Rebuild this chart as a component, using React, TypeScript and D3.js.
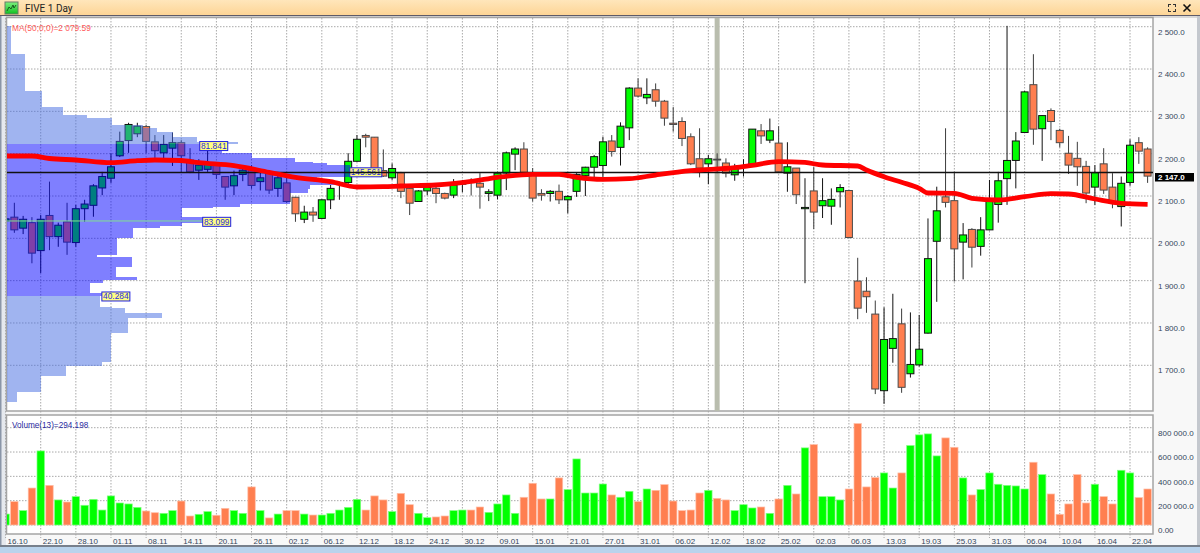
import React, { useEffect, useRef } from "react";
import * as d3 from "d3";

const WIDTH = 1200;
const HEIGHT = 553;

const title = "FIVE 1 Day";
const maLabel = "MA(50;0;0)=2 079.59";
const volumeLabel = "Volume(13)=294.198";

// tick labels, one every 4 sessions
const dateLabels = [
  "16.10", "22.10", "28.10", "01.11", "08.11", "14.11", "20.11", "26.11", "02.12", "06.12", "12.12",
  "18.12", "24.12", "30.12", "09.01", "15.01", "21.01", "27.01", "31.01", "06.02", "12.02", "18.02",
  "25.02", "02.03", "06.03", "13.03", "19.03", "25.03", "31.03", "06.04", "10.04", "16.04", "22.04",
];

const priceTicks = [1700, 1800, 1900, 2000, 2100, 2200, 2300, 2400, 2500];
const volumeTicks = [0, 200000, 400000, 600000, 800000];

const opens = [
  2041, 2050, 2024, 2037, 1971, 2054, 2004, 2039, 1990, 2070, 2078,
  2119, 2142, 2195, 2231, 2247, 2264, 2228, 2202, 2213, 2226,
  2185, 2161, 2163, 2178, 2146, 2124, 2151, 2163, 2134, 2154,
  2118, 2131, 2097, 2045, 2062, 2047, 2091, 2130, 2132, 2182,
  2243, 2239, 2160, 2143, 2155, 2118, 2087, 2112, 2118, 2106,
  2102, 2128, 2135, 2130, 2106, 2102, 2154, 2199, 2211, 2150,
  2106, 2106, 2111, 2091, 2111, 2148, 2168, 2172, 2230, 2215,
  2261, 2355, 2332, 2351, 2324, 2272, 2276, 2240, 2188, 2176,
  2187, 2178, 2150, 2170, 2175, 2254, 2232, 2225, 2154, 2166,
  2070, 2112, 2077, 2076, 2110, 2113, 1899, 1875, 1821, 1640,
  1740, 1798, 1680, 1701, 1776, 1993, 2098, 2089, 1991, 2021,
  1981, 2020, 2080, 2141, 2184, 2250, 2363, 2259, 2302, 2255,
  2201, 2189, 2170, 2121, 2176, 2121, 2075, 2132, 2226, 2211,
];
const closes = [
  2046, 2020, 2045, 1965, 2045, 2004, 2031, 1991, 2070, 2081, 2124,
  2146, 2169, 2229, 2269, 2265, 2229, 2207, 2222, 2226, 2195,
  2157, 2173, 2178, 2151, 2121, 2148, 2161, 2125, 2143, 2114,
  2143, 2087, 2058, 2062, 2055, 2091, 2118, 2132, 2182, 2234,
  2239, 2157, 2147, 2165, 2111, 2083, 2112, 2120, 2106, 2095,
  2126, 2131, 2133, 2121, 2110, 2154, 2202, 2211, 2156, 2095,
  2102, 2111, 2091, 2099, 2151, 2168, 2193, 2228, 2205, 2265,
  2355, 2336, 2340, 2324, 2284, 2269, 2236, 2176, 2166, 2188,
  2185, 2154, 2169, 2172, 2258, 2242, 2254, 2157, 2169, 2103,
  2073, 2062, 2089, 2092, 2120, 2002, 1835, 1862, 1644, 1761,
  1763, 1648, 1702, 1738, 1952, 2065, 2085, 1975, 2008, 1979,
  2020, 2087, 2136, 2184, 2230, 2346, 2258, 2290, 2276, 2226,
  2173, 2169, 2107, 2155, 2114, 2083, 2130, 2220, 2206, 2147,
];
const highs = [
  2048, 2084, 2053, 2050, 2055, 2134, 2037, 2084, 2079, 2091, 2128,
  2157, 2201, 2252, 2273, 2273, 2268, 2244, 2244, 2250, 2232,
  2213, 2187, 2209, 2180, 2147, 2160, 2173, 2173, 2155, 2157,
  2154, 2143, 2098, 2077, 2074, 2092, 2126, 2134, 2201, 2244,
  2247, 2239, 2210, 2177, 2157, 2119, 2114, 2131, 2122, 2108,
  2140, 2138, 2142, 2154, 2116, 2157, 2205, 2215, 2227, 2166,
  2116, 2114, 2127, 2102, 2154, 2169, 2197, 2240, 2244, 2274,
  2357, 2378, 2378, 2366, 2327, 2310, 2286, 2248, 2260, 2197,
  2201, 2189, 2176, 2187, 2258, 2270, 2283, 2265, 2227, 2166,
  2142, 2169, 2142, 2118, 2128, 2114, 1954, 1908, 1853, 1837,
  1869, 1834, 1825, 1819, 2047, 2122, 2260, 2157, 2036, 2024,
  2050, 2138, 2157, 2502, 2251, 2348, 2435, 2291, 2307, 2259,
  2242, 2228, 2183, 2173, 2213, 2154, 2146, 2234, 2239, 2215,
];
const lows = [
  2039, 2013, 2010, 1941, 1918, 1972, 1980, 1961, 1980, 2039, 2051,
  2102, 2131, 2192, 2202, 2239, 2201, 2190, 2187, 2171, 2157,
  2154, 2138, 2157, 2140, 2091, 2102, 2135, 2117, 2113, 2105,
  2098, 2084, 2039, 2036, 2039, 2046, 2069, 2091, 2126, 2181,
  2215, 2155, 2145, 2138, 2095, 2055, 2086, 2102, 2083, 2092,
  2095, 2109, 2101, 2070, 2088, 2092, 2114, 2161, 2150, 2087,
  2089, 2087, 2081, 2059, 2098, 2100, 2143, 2142, 2193, 2172,
  2232, 2333, 2317, 2311, 2266, 2252, 2218, 2173, 2144, 2128,
  2154, 2144, 2136, 2146, 2174, 2223, 2225, 2154, 2110, 2081,
  1894, 2022, 2048, 2032, 2073, 2000, 1809, 1824, 1632, 1609,
  1706, 1635, 1671, 1697, 1775, 1850, 2073, 1898, 1903, 1931,
  1959, 2019, 2037, 2079, 2118, 2249, 2221, 2183, 2232, 2215,
  2152, 2124, 2083, 2079, 2105, 2071, 2028, 2124, 2176, 2131,
];
const volumes = [
  90000, 192000, 118000, 304000, 609000, 326000, 206000, 189000, 233000, 162000, 211000,
  123000, 239000, 181000, 173000, 145000, 115000, 101000, 96000, 118000, 197000,
  74000, 88000, 110000, 80000, 137000, 118000, 96000, 313000, 118000, 58000,
  90000, 118000, 118000, 90000, 82000, 82000, 96000, 123000, 145000, 211000,
  123000, 239000, 206000, 110000, 260000, 167000, 96000, 60000, 66000, 74000,
  118000, 123000, 123000, 148000, 104000, 173000, 247000, 96000, 228000, 343000,
  214000, 214000, 387000, 291000, 543000, 263000, 263000, 337000, 247000, 228000,
  277000, 192000, 296000, 285000, 332000, 197000, 118000, 123000, 263000, 285000,
  219000, 206000, 118000, 167000, 140000, 148000, 96000, 214000, 326000, 255000,
  634000, 661000, 233000, 233000, 206000, 296000, 834000, 313000, 390000, 428000,
  304000, 428000, 653000, 741000, 749000, 568000, 716000, 639000, 387000, 247000,
  291000, 428000, 335000, 326000, 321000, 296000, 516000, 414000, 255000, 88000,
  173000, 414000, 181000, 335000, 233000, 173000, 450000, 428000, 225000, 296000,
];

const maSessions = [
  0, 3, 5, 8, 12, 15, 17, 20, 22, 26, 30, 33, 37, 40, 43, 45, 49, 53, 56, 60, 63, 65, 68,
  71, 74, 78, 83, 85, 88, 91, 93, 97, 98, 100, 102, 104, 105, 108, 110, 113, 116, 119, 121, 124, 127, 130,
];
const maValues = [
  2194.5, 2194.5, 2188.6, 2185.1, 2178.7, 2183.4, 2185.1, 2183.9, 2178.7, 2171.6, 2156, 2144.2,
  2133.8, 2121.3, 2122, 2123.6, 2126, 2134.3, 2144.2, 2151.3, 2151.3, 2144.2, 2139.5,
  2140.9, 2149.6, 2159.8, 2166.9, 2172.5, 2181.1, 2179.2, 2173.2, 2170.9, 2161.4, 2145.6, 2132.4,
  2118.2, 2107.1, 2106.4, 2094.6, 2090.6, 2098.4, 2105.5, 2104.7, 2092.9, 2082.8, 2080.4,
];

// market profile: bin edges in price, then size per bin in thousands
const profileEdges = [
  2501.7, 2435.5, 2348.8, 2310.3, 2291.4, 2284.3, 2267.8, 2260, 2252, 2240.1, 2228.3, 2222.9,
  2208.7, 2200.9, 2189.1, 2181.1, 2177.3, 2173.2, 2144.2, 2133.8, 2126, 2116.5, 2107.8, 2081.1,
  2074.7, 2071, 2050.4, 2035.5, 2029.1, 2023.7, 2000.1, 1960.6, 1955.9, 1933, 1907.9, 1901.5,
  1893.7, 1870.1, 1863.7, 1838.5, 1834.7, 1822.9, 1811, 1775.6, 1708.5, 1698.3, 1674.7, 1637.6, 1612.6,
];
const profileSizes = [
  1.7, 7.6, 14.7, 23.8, 34, 44.6, 57.7, 63.7, 70.5, 80.7, 98.1,
  81.841, 91.3, 104, 122.3, 129.9, 135.9, 145.561, 131.6, 140.1, 128.7, 127.8, 120.2,
  98.9, 87.5, 74.3, 83.099, 74.3, 65, 53.5, 46.7, 38.2, 53.1, 46.3, 55.2,
  40.8, 35.2, 40.284, 39.5, 44.6, 50.1, 65.8, 51.4, 44.2, 40.2, 25, 14.3, 4.4,
];
// value area, the darker part of the profile
const valueAreaHigh = 2222.9;
const valueAreaLow = 1863.7;

const profileTagValues = [81.841, 145.561, 83.099, 40.284];
const profileTagPrices = [2218, 2156, 2039, 1862.6];
const pocPrice = 2041;

const lastPriceLabel = 2147;
const lastPriceLine = 2155.5;
const separatorSession = 81;

const GREEN = "#00ff00";
const ORANGE = "#ff7f50";
const FONT = "'Liberation Sans', Arial, sans-serif";

export default function App() {
  const svgRef = useRef<SVGSVGElement | null>(null);

  useEffect(() => {
    if (!svgRef.current) return;

    // Clear previous drawing
    const svg = d3.select(svgRef.current);
    svg.selectAll("*").remove();

    const plotLeft = 7;
    const plotRight = 1153;
    const plotTop = 18;
    const plotBottom = 411;
    const volTop = 415;
    const volBottom = 534;

    const x = d3.scaleLinear().domain([0, 130]).range([5.565, 1147.6]);
    const y = d3.scaleLinear().domain([1700, 2500]).range([365.3, 26.7]);
    const yVol = d3.scaleLinear().domain([0, 800000]).range([525, 427.7]);
    const xProfile = d3.scaleLinear().domain([0, 145.561]).range([plotLeft, 349.8]);

    const fmt = d3.formatLocale({ decimal: ".", thousands: " ", grouping: [3], currency: ["", ""] }).format(",.1f");

    const defs = svg.append("defs");
    const titleGrad = defs.append("linearGradient").attr("id", "titleGrad").attr("x2", "0").attr("y2", "1");
    titleGrad.append("stop").attr("offset", "0%").attr("stop-color", "#ffe6bb");
    titleGrad.append("stop").attr("offset", "100%").attr("stop-color", "#fdd596");
    const iconGrad = defs.append("linearGradient").attr("id", "iconGrad").attr("x2", "0").attr("y2", "1");
    iconGrad.append("stop").attr("offset", "0%").attr("stop-color", "#7ff07f");
    iconGrad.append("stop").attr("offset", "100%").attr("stop-color", "#10c020");
    defs.append("clipPath").attr("id", "plotClip").append("rect")
      .attr("x", plotLeft).attr("y", plotTop)
      .attr("width", plotRight - plotLeft).attr("height", plotBottom - plotTop);
    defs.append("clipPath").attr("id", "volClip").append("rect")
      .attr("x", plotLeft).attr("y", volTop)
      .attr("width", plotRight - plotLeft).attr("height", volBottom - volTop);

    // Window frame
    svg.append("rect").attr("width", WIDTH).attr("height", HEIGHT).attr("fill", "#f8f8f8");
    svg.append("rect").attr("width", WIDTH).attr("height", 15).attr("fill", "url(#titleGrad)");
    svg.append("rect").attr("y", 15).attr("width", WIDTH).attr("height", 1).attr("fill", "#5e5b68");
    svg.append("rect").attr("y", 16).attr("width", WIDTH).attr("height", 2).attr("fill", "#d8d8d8");
    svg.append("rect").attr("width", 6).attr("y", 16).attr("height", HEIGHT - 16).attr("fill", "#e6e9ee");
    svg.append("rect").attr("width", 1.5).attr("y", 16).attr("height", HEIGHT - 16).attr("fill", "#8a96a8");
    svg.append("rect").attr("x", 1197).attr("width", 3).attr("y", 16).attr("height", HEIGHT - 16).attr("fill", "#c4c8ce");
    svg.append("rect").attr("x", plotLeft).attr("y", plotTop)
      .attr("width", plotRight - plotLeft).attr("height", plotBottom - plotTop).attr("fill", "#ffffff");
    svg.append("rect").attr("x", plotLeft).attr("y", volTop)
      .attr("width", plotRight - plotLeft).attr("height", volBottom - volTop).attr("fill", "#ffffff");
    svg.append("rect").attr("y", 545).attr("width", WIDTH).attr("height", 2).attr("fill", "#77808c");
    svg.append("rect").attr("y", 547).attr("width", WIDTH).attr("height", 6).attr("fill", "#b9d3ec");

    // Title bar
    svg.append("rect").attr("x", 5).attr("y", 2).attr("width", 13).attr("height", 12)
      .attr("fill", "url(#iconGrad)").attr("stroke", "#6a7a6a");
    svg.append("path").attr("d", "M7 11L9 7L11 9L13 5L14 8L16 5")
      .attr("fill", "none").attr("stroke", "#1a5a20").attr("stroke-width", 1);
    svg.append("text").attr("x", 25).attr("y", 11.5)
      .attr("font-family", "Roboto, sans-serif").attr("font-size", 10).attr("fill", "#222").text(title);
    svg.append("path").attr("d", "M1183.5 4.5L1190.5 11.5M1190.5 4.5L1183.5 11.5")
      .attr("stroke", "#111").attr("stroke-width", 1.6);
    svg.append("path")
      .attr("d", "M1168 4h3v1h-2v2h-1zM1176 4h-3v1h2v2h1zM1168 12h3v-1h-2v-2h-1zM1176 12h-3v-1h2v-2h1z")
      .attr("fill", "#333");

    // Grid
    const gridColor = "#a9a9a9";
    const grid = svg.append("g").attr("stroke", gridColor).attr("stroke-width", 1).attr("stroke-dasharray", "1.5 1.5");
    const tickSessions = dateLabels.map((_, i) => i * 4);
    grid.selectAll(".vgrid").data(tickSessions).enter().append("line")
      .attr("x1", d => x(d)).attr("x2", d => x(d))
      .attr("y1", plotTop).attr("y2", 538);
    grid.selectAll(".hgrid").data(priceTicks).enter().append("line")
      .attr("x1", plotLeft).attr("x2", plotRight)
      .attr("y1", d => y(d)).attr("y2", d => y(d));
    grid.selectAll(".vhgrid").data(volumeTicks).enter().append("line")
      .attr("x1", plotLeft).attr("x2", plotRight)
      .attr("y1", d => yVol(d)).attr("y2", d => yVol(d));

    // Panel borders
    const border = svg.append("g").attr("fill", "none").attr("stroke", "#a4a4a4").attr("stroke-width", 1.5);
    border.append("rect").attr("x", 6.5).attr("y", plotTop - 0.5)
      .attr("width", plotRight - 6.5).attr("height", plotBottom - plotTop + 0.5);
    border.append("rect").attr("x", 6.5).attr("y", volTop)
      .attr("width", plotRight - 6.5).attr("height", volBottom - volTop);

    const plot = svg.append("g").attr("clip-path", "url(#plotClip)");

    // Session separator
    plot.append("rect").attr("x", x(separatorSession) - 2.5).attr("y", plotTop)
      .attr("width", 5).attr("height", plotBottom - plotTop).attr("fill", "#b9bdae");

    // Candles
    const sessions = d3.range(opens.length);
    const candles = plot.selectAll(".candle").data(sessions).enter().append("g").attr("class", "candle");
    candles.append("line")
      .attr("x1", d => x(d)).attr("x2", d => x(d))
      .attr("y1", d => y(highs[d])).attr("y2", d => y(lows[d]))
      .attr("stroke", d => (closes[d] >= opens[d] ? "#111" : "#3c3c3c")).attr("stroke-width", 1);
    candles.append("rect")
      .attr("x", d => x(d) - 3.5)
      .attr("y", d => y(Math.max(opens[d], closes[d])))
      .attr("width", 7)
      .attr("height", d => Math.abs(y(opens[d]) - y(closes[d])))
      .attr("fill", d => (closes[d] >= opens[d] ? GREEN : ORANGE))
      .attr("stroke", d => (closes[d] >= opens[d] ? "#111" : "#4a4a4a"))
      .attr("stroke-width", 1);

    // Market profile, laid over the candles
    plot.selectAll(".profile").data(profileSizes).enter().append("rect")
      .attr("x", plotLeft)
      .attr("y", (_, i) => y(profileEdges[i]))
      .attr("width", d => xProfile(d) - plotLeft)
      .attr("height", (_, i) => y(profileEdges[i + 1]) - y(profileEdges[i]))
      .attr("fill", (_, i) =>
        profileEdges[i] <= valueAreaHigh && profileEdges[i + 1] >= valueAreaLow ? "#0000ff" : "#4169e1")
      .attr("fill-opacity", 0.5)
      .attr("shape-rendering", "crispEdges");

    plot.append("line")
      .attr("x1", plotLeft).attr("x2", xProfile(83.099))
      .attr("y1", y(pocPrice)).attr("y2", y(pocPrice))
      .attr("stroke", "#80e090").attr("stroke-width", 1);

    // Profile tags
    const tags = plot.selectAll(".tag").data(profileTagValues).enter().append("g");
    tags.append("rect")
      .attr("x", d => xProfile(d))
      .attr("y", (_, i) => y(profileTagPrices[i]) - 4.5)
      .attr("width", (_, i) => (i === 1 ? 32 : 28))
      .attr("height", 9)
      .attr("fill", "#ffff80").attr("stroke", "#2020e0").attr("stroke-width", 1);
    tags.append("text")
      .attr("x", (d, i) => xProfile(d) + (i === 1 ? 16 : 14))
      .attr("y", (_, i) => y(profileTagPrices[i]) + 3)
      .attr("text-anchor", "middle")
      .attr("font-family", FONT).attr("font-size", 8.4).attr("fill", "#2a2ae0")
      .text(d => d3.format(".3f")(d));

    // Last price line and moving average
    plot.append("line")
      .attr("x1", plotLeft).attr("x2", plotRight)
      .attr("y1", y(lastPriceLine)).attr("y2", y(lastPriceLine))
      .attr("stroke", "#111").attr("stroke-width", 1.4);

    const maLine = d3.line<number>()
      .x(d => x(d))
      .y((_, i) => y(maValues[i]))
      .curve(d3.curveMonotoneX);
    plot.append("path").datum(maSessions).attr("d", maLine)
      .attr("fill", "none").attr("stroke", "#ff0000").attr("stroke-width", 4.8);

    svg.append("text").attr("x", 12).attr("y", 31)
      .attr("font-family", FONT).attr("font-size", 8.4).attr("fill", "#ff5a5a").text(maLabel);

    // Volume bars
    const volPlot = svg.append("g").attr("clip-path", "url(#volClip)");
    volPlot.selectAll(".vol").data(volumes).enter().append("rect")
      .attr("x", (_, i) => x(i) - 3.7)
      .attr("y", d => yVol(d))
      .attr("width", 7.4)
      .attr("height", d => yVol(0) - yVol(d))
      .attr("fill", (_, i) => (closes[i] >= opens[i] ? GREEN : ORANGE))
      .attr("stroke", (_, i) => (closes[i] >= opens[i] ? "#80ff80" : "#ffbfa8"))
      .attr("stroke-width", 0.7);

    svg.append("text").attr("x", 12).attr("y", 428)
      .attr("font-family", FONT).attr("font-size", 8.2).attr("fill", "#2a2aa0").text(volumeLabel);

    // Axes
    const priceAxis = d3.axisRight(y).tickValues(priceTicks).tickSize(0).tickPadding(0).tickFormat(d => fmt(+d));
    const gPrice = svg.append("g").attr("transform", "translate(1158,5)").call(priceAxis);
    const volAxis = d3.axisRight(yVol).tickValues(volumeTicks).tickSize(0).tickPadding(0)
      .tickFormat(d => (+d === 0 ? "0.00" : fmt(+d)));
    const gVol = svg.append("g").attr("transform", "translate(1158,5.3)").call(volAxis);
    [gPrice, gVol].forEach(g => {
      g.select(".domain").remove();
      g.selectAll("text")
        .attr("font-family", FONT).attr("font-size", 8).attr("fill", "#34465c");
    });

    svg.append("g").selectAll("text").data(dateLabels).enter().append("text")
      .attr("x", (_, i) => x(i * 4) + 2)
      .attr("y", 544)
      .attr("font-family", FONT).attr("font-size", 8).attr("fill", "#34465c")
      .text(d => d);

    // Last price tag
    svg.append("rect").attr("x", 1155).attr("y", y(lastPriceLine) + 0.5)
      .attr("width", 39).attr("height", 8.5).attr("fill", "#000");
    svg.append("text").attr("x", 1158).attr("y", y(lastPriceLine) + 7.5)
      .attr("font-family", FONT).attr("font-size", 8).attr("font-weight", "bold").attr("fill", "#fff")
      .text(fmt(lastPriceLabel));
  }, []);

  return (
    <div>
      <style>{"body{margin:0}"}</style>
      <svg ref={svgRef} width={WIDTH} height={HEIGHT} style={{ display: "block" }} />
    </div>
  );
}
